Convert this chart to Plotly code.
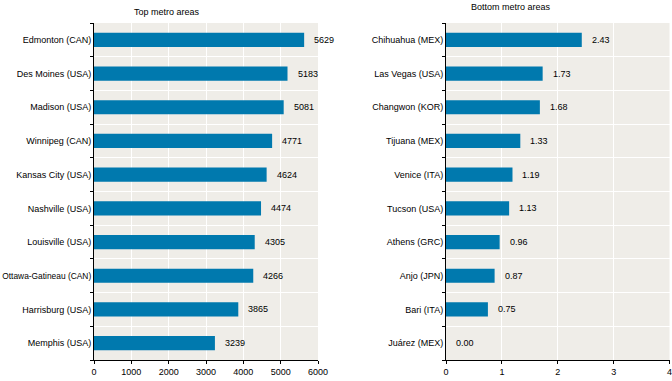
import plotly.graph_objects as go

top_cities = ["Edmonton (CAN)", "Des Moines (USA)", "Madison (USA)", "Winnipeg (CAN)",
              "Kansas City (USA)", "Nashville (USA)", "Louisville (USA)",
              "Ottawa-Gatineau (CAN)", "Harrisburg (USA)", "Memphis (USA)"]
top_values = [5629, 5183, 5081, 4771, 4624, 4474, 4305, 4266, 3865, 3239]
top_labels = ["5629", "5183", "5081", "4771", "4624", "4474", "4305", "4266", "3865", "3239"]

bottom_cities = ["Chihuahua (MEX)", "Las Vegas (USA)", "Changwon (KOR)", "Tijuana (MEX)",
                 "Venice (ITA)", "Tucson (USA)", "Athens (GRC)", "Anjo (JPN)",
                 "Bari (ITA)", "Juárez (MEX)"]
bottom_values = [2.43, 1.73, 1.68, 1.33, 1.19, 1.13, 0.96, 0.87, 0.75, 0.00]
bottom_labels = ["2.43", "1.73", "1.68", "1.33", "1.19", "1.13", "0.96", "0.87", "0.75", "0.00"]

left_ticks = [0, 1000, 2000, 3000, 4000, 5000, 6000]
right_ticks = [0, 1, 2, 3, 4]

BAR = "#0079ae"
BG = "#efede8"
FONT = "Liberation Sans Narrow, Arial Narrow, Liberation Sans, Arial, sans-serif"
FS = 9
W, H = 672, 381


def fit(label):
    # long category names get a slightly smaller font so they fit left of the axis
    if len(label) > 18:
        return "<span style='font-size:8.4px'>" + label + "</span>"
    return label


fig = go.Figure()
fig.add_trace(go.Bar(x=top_values, y=top_cities, orientation="h", marker_color=BAR,
                     marker_line_width=0, width=0.42, xaxis="x", yaxis="y",
                     hoverinfo="x+y"))
fig.add_trace(go.Bar(x=bottom_values, y=bottom_cities, orientation="h", marker_color=BAR,
                     marker_line_width=0, width=0.42, xaxis="x2", yaxis="y2",
                     hoverinfo="x+y"))

annotations = []
for c, v, t in zip(top_cities, top_values, top_labels):
    annotations.append(dict(x=v, y=c, xref="x", yref="y", text=t, showarrow=False,
                            xanchor="left", xshift=8, font=dict(size=FS, color="#000")))
for c, v, t in zip(bottom_cities, bottom_values, bottom_labels):
    annotations.append(dict(x=v, y=c, xref="x2", yref="y2", text=t, showarrow=False,
                            xanchor="left", xshift=8, font=dict(size=FS, color="#000")))
annotations.append(dict(x=167 / W, y=1 - 12 / H, xref="paper", yref="paper",
                        text="Top metro areas", showarrow=False, xanchor="center",
                        yanchor="middle", font=dict(size=FS, color="#000")))
annotations.append(dict(x=511 / W, y=1 - 7.5 / H, xref="paper", yref="paper",
                        text="Bottom metro areas", showarrow=False, xanchor="center",
                        yanchor="middle", font=dict(size=FS, color="#000")))

ydom = [21 / H, 1 - 23 / H]
xaxis_common = dict(showgrid=True, gridcolor="white", gridwidth=1, zeroline=False,
                    showline=True, linecolor="black", linewidth=1, ticks="outside",
                    ticklen=3, tickcolor="black", tickfont=dict(size=FS, color="#000"),
                    ticklabeloverflow="allow", fixedrange=True)
yaxis_common = dict(type="category", autorange="reversed", tickson="boundaries",
                    showgrid=True, gridcolor="white", gridwidth=1, showline=True,
                    linecolor="black", linewidth=1, ticks="outside", ticklen=3,
                    tickcolor="black", tickfont=dict(size=FS, color="#000"),
                    domain=ydom, fixedrange=True)

fig.update_layout(
    width=W, height=H,
    margin=dict(l=0, r=0, t=0, b=0, autoexpand=False),
    paper_bgcolor="white",
    plot_bgcolor=BG,
    showlegend=False,
    font=dict(family=FONT, size=FS, color="#000"),
    xaxis=dict(xaxis_common, domain=[94 / W, 318 / W], range=[0, 6000],
               tickvals=left_ticks, anchor="y"),
    yaxis=dict(yaxis_common, anchor="x", tickmode="array", tickvals=top_cities,
               ticktext=[fit(c) for c in top_cities]),
    xaxis2=dict(xaxis_common, domain=[446 / W, 669.5 / W], range=[0, 4],
                tickvals=right_ticks, anchor="y2"),
    yaxis2=dict(yaxis_common, anchor="x2", tickmode="array", tickvals=bottom_cities,
                ticktext=[fit(c) for c in bottom_cities]),
    annotations=annotations,
)

fig.write_html("out.html", config={"displayModeBar": False},
               post_script="document.body.style.margin='0';")
